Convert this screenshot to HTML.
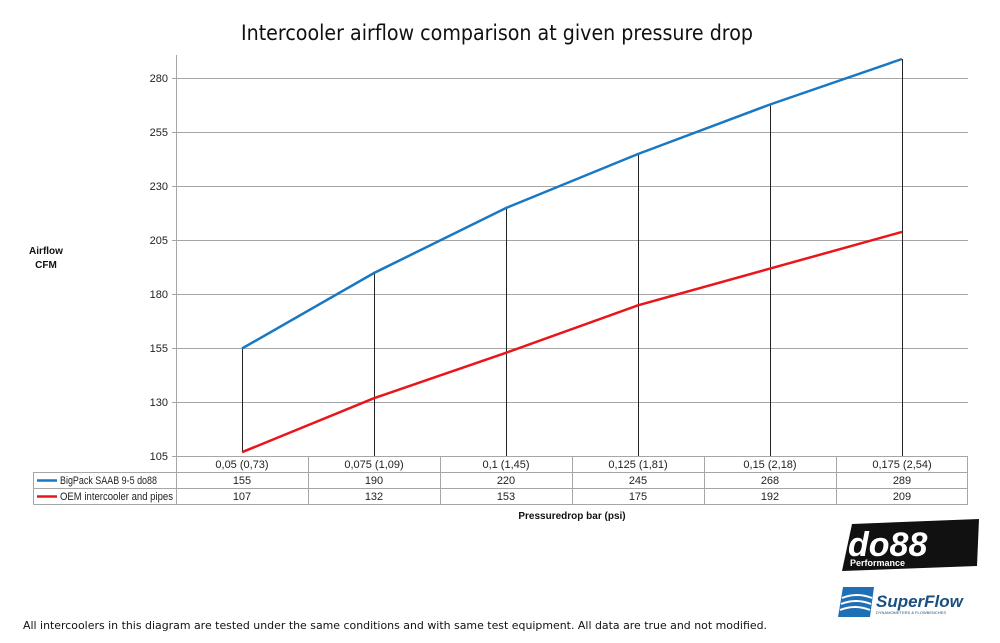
<!DOCTYPE html>
<html><head><style>body{margin:0;background:#fff}svg{display:block}</style></head><body>
<svg width="1000" height="643" xmlns="http://www.w3.org/2000/svg" font-family="Liberation Sans, sans-serif">
<rect width="1000" height="643" fill="#fff"/>
<text x="497" y="40" font-size="21.5" text-anchor="middle" fill="#111" font-family="DejaVu Sans, sans-serif" textLength="512" lengthAdjust="spacingAndGlyphs">Intercooler airflow comparison at given pressure drop</text>
<g stroke="#a6a6a6" stroke-width="1">
<line x1="176" y1="78.5" x2="968" y2="78.5"/><line x1="176" y1="132.5" x2="968" y2="132.5"/>
<line x1="176" y1="186.5" x2="968" y2="186.5"/><line x1="176" y1="240.5" x2="968" y2="240.5"/>
<line x1="176" y1="294.5" x2="968" y2="294.5"/><line x1="176" y1="348.5" x2="968" y2="348.5"/>
<line x1="176" y1="402.5" x2="968" y2="402.5"/><line x1="176" y1="456.5" x2="968" y2="456.5"/>
<line x1="176.5" y1="55" x2="176.5" y2="504"/>
<line x1="172" y1="78.5" x2="176" y2="78.5"/><line x1="172" y1="132.5" x2="176" y2="132.5"/>
<line x1="172" y1="186.5" x2="176" y2="186.5"/><line x1="172" y1="240.5" x2="176" y2="240.5"/>
<line x1="172" y1="294.5" x2="176" y2="294.5"/><line x1="172" y1="348.5" x2="176" y2="348.5"/>
<line x1="172" y1="402.5" x2="176" y2="402.5"/><line x1="172" y1="456.5" x2="176" y2="456.5"/>
<line x1="33.5" y1="472.5" x2="968" y2="472.5"/><line x1="33.5" y1="488.5" x2="968" y2="488.5"/>
<line x1="33.5" y1="504.5" x2="968" y2="504.5"/><line x1="33.5" y1="472" x2="33.5" y2="504.5"/>
<line x1="308.5" y1="456" x2="308.5" y2="504"/><line x1="440.5" y1="456" x2="440.5" y2="504"/>
<line x1="572.5" y1="456" x2="572.5" y2="504"/><line x1="704.5" y1="456" x2="704.5" y2="504"/>
<line x1="836.5" y1="456" x2="836.5" y2="504"/><line x1="967.5" y1="456" x2="967.5" y2="504"/>
</g>
<g font-size="11" fill="#222" text-anchor="end">
<text x="168" y="82">280</text><text x="168" y="136">255</text><text x="168" y="190">230</text>
<text x="168" y="244">205</text><text x="168" y="298">180</text><text x="168" y="352">155</text>
<text x="168" y="406">130</text><text x="168" y="460">105</text>
</g>
<g font-size="10" font-weight="bold" fill="#111" text-anchor="middle">
<text x="46" y="254">Airflow</text><text x="46" y="268">CFM</text>
<text x="572" y="519">Pressuredrop bar (psi)</text>
</g>
<g stroke="#222" stroke-width="1">
<line x1="242.5" y1="348" x2="242.5" y2="452"/><line x1="374.5" y1="272" x2="374.5" y2="456"/>
<line x1="506.5" y1="208" x2="506.5" y2="456"/><line x1="638.5" y1="154" x2="638.5" y2="456"/>
<line x1="770.5" y1="104" x2="770.5" y2="456"/><line x1="902.5" y1="59" x2="902.5" y2="456"/>
</g>
<polyline fill="none" stroke="#1a78c2" stroke-width="2.5" points="242,348.5 374,273 506,208 638,154 770,104.5 902,59"/>
<polyline fill="none" stroke="#e8161b" stroke-width="2.5" points="242,452.2 374,398.2 506,352.8 638,305.3 770,268.6 902,231.9"/>
<g font-size="11" fill="#222" text-anchor="middle">
<text x="242" y="468">0,05 (0,73)</text><text x="374" y="468">0,075 (1,09)</text><text x="506" y="468">0,1 (1,45)</text>
<text x="638" y="468">0,125 (1,81)</text><text x="770" y="468">0,15 (2,18)</text><text x="902" y="468">0,175 (2,54)</text>
<text x="242" y="484">155</text><text x="374" y="484">190</text><text x="506" y="484">220</text>
<text x="638" y="484">245</text><text x="770" y="484">268</text><text x="902" y="484">289</text>
<text x="242" y="500">107</text><text x="374" y="500">132</text><text x="506" y="500">153</text>
<text x="638" y="500">175</text><text x="770" y="500">192</text><text x="902" y="500">209</text>
</g>
<line x1="37" y1="480.5" x2="57" y2="480.5" stroke="#1a78c2" stroke-width="2.5"/>
<line x1="37" y1="496.5" x2="57" y2="496.5" stroke="#e8161b" stroke-width="2.5"/>
<g font-size="11" fill="#222"><text x="60" y="484" textLength="97" lengthAdjust="spacingAndGlyphs">BigPack SAAB 9-5 do88</text><text x="60" y="500" textLength="113" lengthAdjust="spacingAndGlyphs">OEM intercooler and pipes</text></g>
<text x="23" y="629" font-size="11" fill="#111" font-family="DejaVu Sans, sans-serif" textLength="744" lengthAdjust="spacingAndGlyphs">All intercoolers in this diagram are tested under the same conditions and with same test equipment. All data are true and not modified.</text>
<polygon points="852,524 979,519 977,566 842,571" fill="#111"/>
<text x="848" y="556" font-size="34" font-weight="bold" font-style="italic" fill="#fff">do88</text>
<text x="850" y="566" font-size="9" font-weight="bold" fill="#fff">Performance</text>
<polygon points="843,587 874,587 870,617 838,617" fill="#1f6fb5"/>
<path d="M842,598 q15,-6 30,0 M841,604 q15,-6 30,0 M840,610 q15,-6 30,0" stroke="#fff" stroke-width="2" fill="none"/>
<text x="876" y="607" font-size="17" font-weight="bold" font-style="italic" fill="#1a4f80">SuperFlow</text>
<text x="876" y="614" font-size="4" fill="#1a4f80">DYNAMOMETERS &amp; FLOWBENCHES</text>
</svg>
</body></html>
